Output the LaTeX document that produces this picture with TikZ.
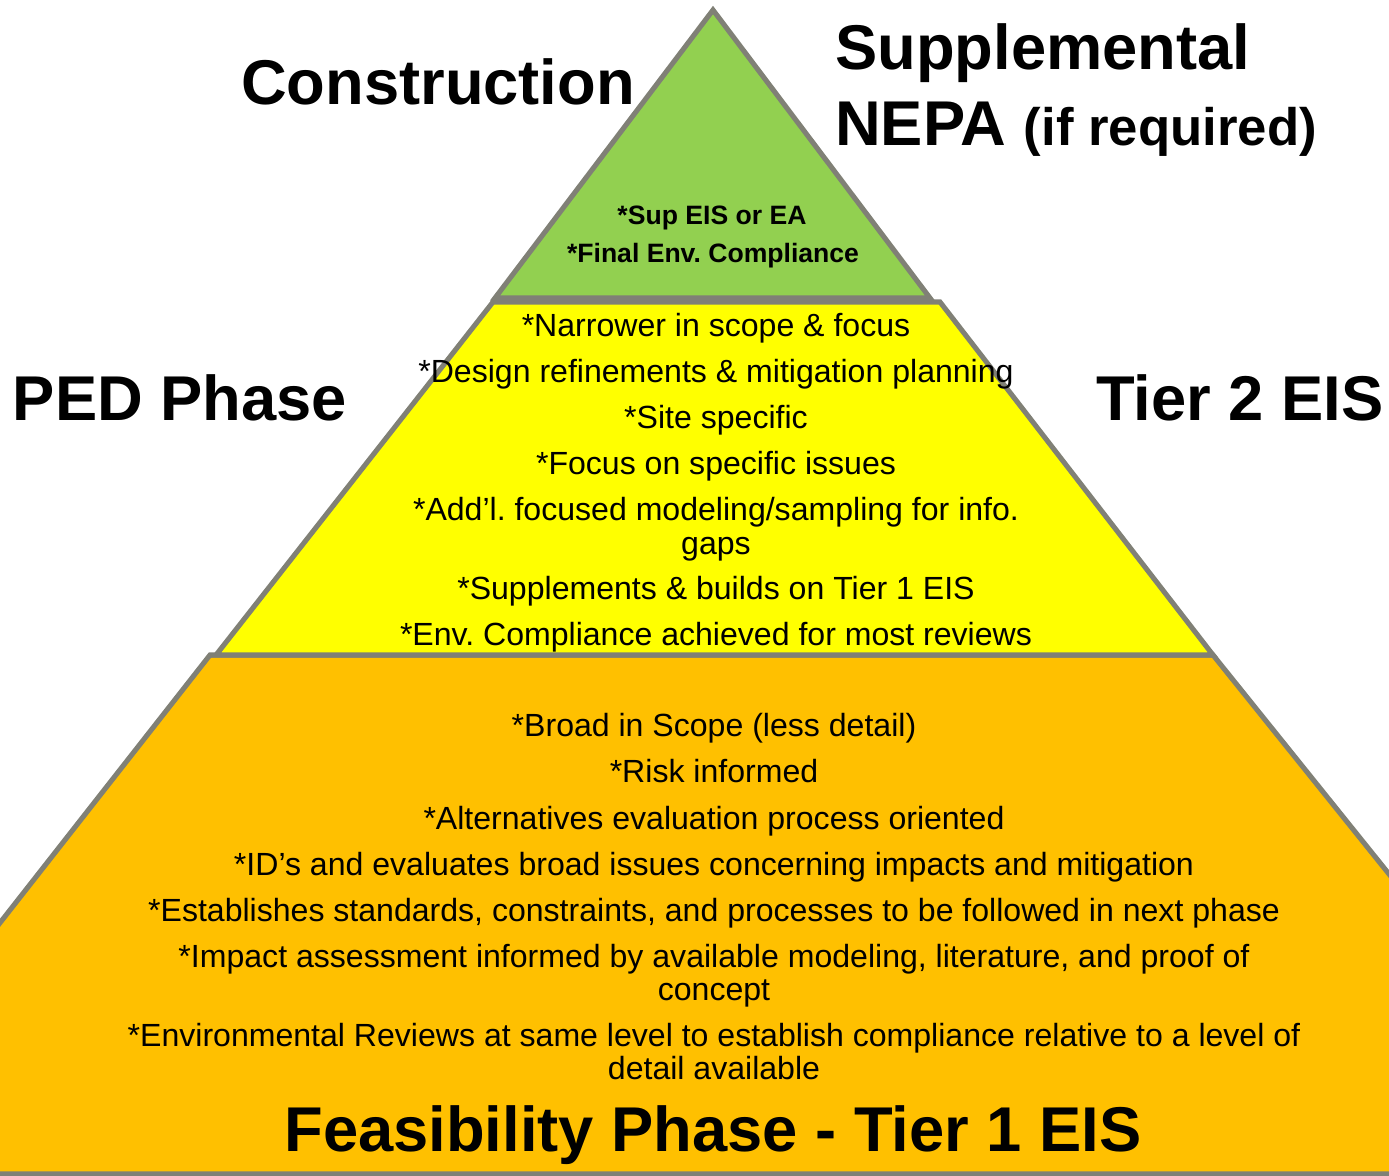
\documentclass[tikz,border=0pt]{standalone}
\usepackage{fontspec}
\setmainfont{Liberation Sans}
\usepackage{tikz}
\frenchspacing
\definecolor{rim}{RGB}{128,128,118}
\definecolor{topgreen}{RGB}{146,208,80}
\definecolor{midyellow}{RGB}{255,255,0}
\definecolor{baseorange}{RGB}{255,192,0}

\begin{document}
\begin{tikzpicture}[x=0.025cm,y=-0.025cm,
  layer/.style={draw=rim,line width=3.6pt},
  phase/.style={font=\fontsize{45}{54}\selectfont\bfseries,anchor=base,inner sep=0pt},
  item/.style={font=\fontsize{22.8}{27}\selectfont,anchor=base,inner sep=0pt},
  topitem/.style={font=\fontsize{18.9}{23}\selectfont\bfseries,anchor=base,inner sep=0pt}]
\useasboundingbox (0,0) rectangle (1389,1176);

% the three layers, bottom one runs off the page
\begin{scope}
\clip (0,0) rectangle (1389,1176);
\draw[layer,fill=baseorange] (210,655) -- (1213,655) -- (1630,1174) -- (-197,1174) -- cycle;
\end{scope}
\draw[layer,fill=midyellow] (493,302) -- (940,302) -- (1213,655) -- (216,655) -- cycle;
\draw[layer,fill=topgreen] (713,10) -- (930,298) -- (495,298) -- cycle;

% labels beside the pyramid
\node[phase] (constr) at (438,105) {Construction};
\node[phase,anchor=base west] (supp) at (835,70) {Supplemental};
\node[phase,anchor=base west] (nepa) at (835,145) {NEPA {\fontsize{37.5}{45}\selectfont (if required)}};
\node[phase] (ped) at (180,420) {PED Phase};
\node[phase] (tier2) at (1240,420) {Tier 2 EIS};
\node[phase] (tier1) at (713,1151) {Feasibility Phase - Tier 1 EIS};

% top
\node[topitem] (top1) at (712,224) {*Sup EIS or EA};
\node[topitem] (top2) at (713,262) {*Final Env. Compliance};

% middle
\foreach \yb/\txt [count=\i] in {
    336/{*Narrower in scope \& focus},
    382/{*Design refinements \& mitigation planning},
    428/{*Site specific},
    474/{*Focus on specific issues},
    520/{*Add’l. focused modeling/sampling for info.},
    554/{gaps},
    599/{*Supplements \& builds on Tier 1 EIS},
    645/{*Env. Compliance achieved for most reviews}}
  \node[item] (mid\i) at (716,\yb) {\txt};

% bottom
\foreach \yb/\txt [count=\i] in {
    736/{*Broad in Scope (less detail)},
    782/{*Risk informed},
    829/{*Alternatives evaluation process oriented},
    875/{*ID’s and evaluates broad issues concerning impacts and mitigation},
    921/{*Establishes standards, constraints, and processes to be followed in next phase},
    967/{*Impact assessment informed by available modeling, literature, and proof of},
    1000/{concept},
    1046/{*Environmental Reviews at same level to establish compliance relative to a level of},
    1079/{detail available}}
  \node[item] (low\i) at (714,\yb) {\txt};
\end{tikzpicture}
\end{document}
